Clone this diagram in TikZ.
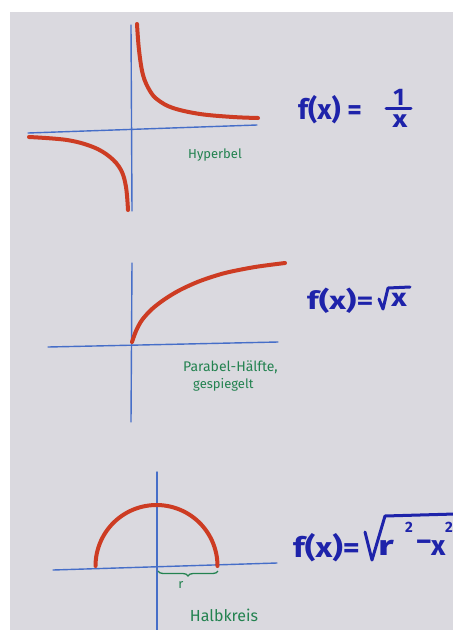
\documentclass[tikz,border=0pt]{standalone}
\usepackage{fontspec}
\setmainfont{Fira Sans}
\usetikzlibrary{decorations.pathreplacing}
\definecolor{paper}{RGB}{218,217,223}
\definecolor{axisblue}{RGB}{70,110,200}
\definecolor{curvered}{RGB}{205,60,35}
\definecolor{labelgreen}{RGB}{35,130,80}
\definecolor{inkblue}{RGB}{30,35,170}
\tikzset{
  axisline/.style={draw=axisblue, line width=1.4pt, line cap=round},
  redcurve/.style={draw=curvered, line width=4pt, line cap=round},
  greenlabel/.style={text=labelgreen, font=\fontsize{13}{15}\selectfont, inner sep=0pt, align=left},
  formula/.style={text=inkblue, font=\fontsize{28}{28}\selectfont\bfseries, inner sep=0pt},
  formulasmall/.style={text=inkblue, font=\fontsize{25}{25}\selectfont\bfseries, inner sep=0pt},
  fracpart/.style={text=inkblue, font=\fontsize{24}{24}\selectfont\bfseries, inner sep=0pt},
  supers/.style={text=inkblue, font=\fontsize{15}{15}\selectfont\bfseries, inner sep=0pt},
  inkline/.style={draw=inkblue, line width=3pt, line cap=round, line join=round},
  bracestyle/.style={draw=labelgreen, line width=1.3pt, decorate, decoration={brace, mirror, amplitude=5pt}}
}
\begin{document}
\begin{tikzpicture}[x=1pt,y=-1pt]
\useasboundingbox (0,0) rectangle (453,630);
\fill[white] (0,0) rectangle (453,630);
\fill[paper] (10,12) rectangle (453,630);

% ---------- Hyperbel ----------
\coordinate (h1a) at (28,133);
\coordinate (h1b) at (257,125);
\coordinate (v1a) at (131,25);
\coordinate (v1b) at (132,211);
\draw[axisline] (h1a) -- (h1b);
\draw[axisline] (v1a) -- (v1b);
\draw[redcurve] plot[smooth, tension=0.6] coordinates {(137,24) (139,50) (143,75) (150,91) (158,100) (173,108) (200,114) (233,117) (258,118)};
\draw[redcurve] plot[smooth, tension=0.6] coordinates {(29,137) (67,140) (93,147) (110,157) (121,170) (126,187) (128,210)};
\node[greenlabel] (lab1) at (215,155) {Hyperbel};
\node[formula, anchor=west] (f1) at (298,110) {f(x) =};
\node[fracpart] (one1) at (399,97) {1};
\coordinate (bar1a) at (386,108);
\coordinate (bar1b) at (411,108);
\draw[inkline] (bar1a) -- (bar1b);
\node[fracpart] (x1) at (400,121) {\scalebox{1.2}[1]{x}};

% ---------- Wurzel ----------
\coordinate (h2a) at (48,347);
\coordinate (h2b) at (278,342);
\coordinate (v2a) at (132,263);
\coordinate (v2b) at (131,422);
\draw[axisline] (h2a) -- (h2b);
\draw[axisline] (v2a) -- (v2b);
\draw[redcurve] plot[smooth, tension=0.5] coordinates {(132,342) (136,331) (142,320) (152,309) (165,299) (180,290) (200,281) (225,273) (255,267) (285,263)};
\node[greenlabel, anchor=west, font=\fontsize{14}{16}\selectfont] (lab2a) at (183,367) {Parabel-Hälfte,};
\node[greenlabel, anchor=west] (lab2b) at (193,385) {gespiegelt};
\node[formulasmall, anchor=west] (f2) at (307,301) {\scalebox{1.3}[1]{f(x)=}};
\coordinate (r2a) at (379,299);
\coordinate (r2b) at (383,309);
\coordinate (r2c) at (388,288);
\coordinate (r2d) at (410,287);
\draw[inkline] (r2a) -- (r2b) -- (r2c) -- (r2d);
\node[formulasmall] (x2) at (399,300) {\scalebox{1.2}[1]{x}};

% ---------- Halbkreis ----------
\coordinate (h3a) at (53,570);
\coordinate (h3b) at (277,563);
\coordinate (v3a) at (157,472);
\coordinate (v3b) at (157,632);
\draw[axisline] (h3a) -- (h3b);
\draw[axisline] (v3a) -- (v3b);
\draw[redcurve] plot[domain=180:0, samples=60] ({156.5+61*cos(\x)},{566-61*sin(\x)});
\coordinate (br1) at (158,571);
\coordinate (br2) at (218,571);
\draw[bracestyle] (br1) -- (br2);
\node[greenlabel] (rlab) at (181,585) {r};
\node[greenlabel, font=\fontsize{16}{18}\selectfont] (lab3) at (224,615) {Halbkreis};
\node[formula, anchor=west] (f3) at (293,548) {\scalebox{1.17}[1]{f(x)=}};
\coordinate (r3a) at (365,532);
\coordinate (r3b) at (372,560);
\coordinate (r3c) at (385,516);
\coordinate (r3d) at (455,514);
\draw[inkline] (r3a) -- (r3b) -- (r3c) -- (r3d);
\node[formula, anchor=west] (r3) at (378,548) {\scalebox{1.4}[1]{r}};
\node[supers] (sq1) at (409,527) {2};
\node[formula] (minus3) at (424,545) {–};
\node[formula, anchor=west] (x3) at (431,548) {x};
\node[supers] (sq2) at (449,527) {2};
\end{tikzpicture}
\end{document}
